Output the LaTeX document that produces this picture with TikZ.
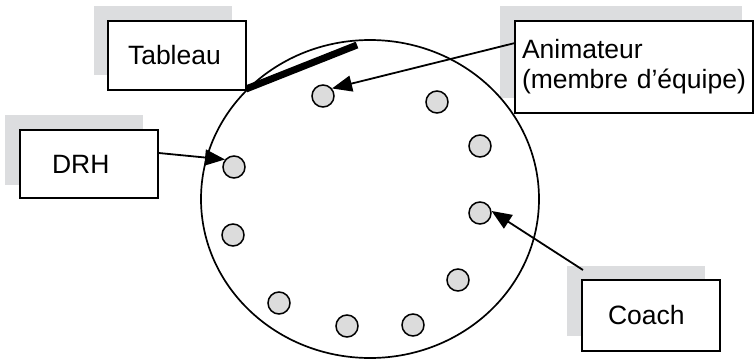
\documentclass[tikz,border=0pt]{standalone}
\usepackage{fontspec}
\setmainfont{Liberation Sans}
\usetikzlibrary{arrows.meta}
\definecolor{shadowgray}{HTML}{DCDDDF}
\definecolor{dotgray}{HTML}{DCDCDC}
\tikzset{
  labelbox/.style={draw=black, line width=1.5pt, fill=white, rectangle, inner ysep=0pt, align=left, font=\fontsize{26.5}{30}\selectfont},
  shadowbox/.style={fill=shadowgray, draw=none, rectangle, inner sep=0pt},
  member/.style={circle, draw=black, line width=1.5pt, fill=dotgray, minimum size=22pt, inner sep=0pt},
  arr/.style={line width=1.8pt, -{Triangle[length=20pt,width=16pt]}},
}
\begin{document}
\begin{tikzpicture}[x=1pt,y=-1pt]
\useasboundingbox (0,0) rectangle (754,359);
% shadows
\node[shadowbox, minimum width=138pt, minimum height=69pt] (tabs) at (163,40.5) {};
\node[shadowbox, minimum width=242pt, minimum height=92pt] (anims) at (621,52) {};
\node[shadowbox, minimum width=138pt, minimum height=70pt] (drhs) at (74,150) {};
\node[shadowbox, minimum width=138pt, minimum height=70pt] (coachs) at (636,301) {};
% team circle
\draw[line width=1.7pt] (370,199) ellipse [x radius=169pt, y radius=159pt];
\coordinate (barA) at (246,89);
\coordinate (barB) at (357,45);
\draw[line width=7pt] (barA) -- (barB);
% boxes
\node[labelbox, minimum width=138pt, minimum height=69pt, inner xsep=20pt, text width=98pt] (tab) at (177,55.5) {Tableau};
\node[labelbox, minimum width=238pt, minimum height=92pt, inner xsep=7pt, text width=224pt] (anim) at (634,67) {Animateur\\(membre\ d’équipe)};
\node[labelbox, minimum width=138pt, minimum height=68pt, inner xsep=32pt, text width=74pt] (drh) at (89,164) {DRH};
\node[labelbox, minimum width=138pt, minimum height=71pt, inner xsep=26pt, text width=86pt] (coach) at (651,315.5) {Coach};
% members
\node[member] (p1) at (323,96) {};
\node[member] (p2) at (437,102) {};
\node[member] (p3) at (480,146) {};
\node[member] (p4) at (480,213) {};
\node[member] (p5) at (458,280) {};
\node[member] (p6) at (413,325) {};
\node[member] (p7) at (347,326) {};
\node[member] (p8) at (279,303) {};
\node[member] (p9) at (233,235) {};
\node[member] (p10) at (234,167) {};
% arrows
\coordinate (animstart) at (515,43);
\coordinate (coachstart) at (583,270);
\draw[arr] (animstart) -- (p1.40);
\draw[arr] (drh.east |- 0,153) -- (p10.140);
\draw[arr] (coachstart) -- (p4.10);
\end{tikzpicture}
\end{document}
